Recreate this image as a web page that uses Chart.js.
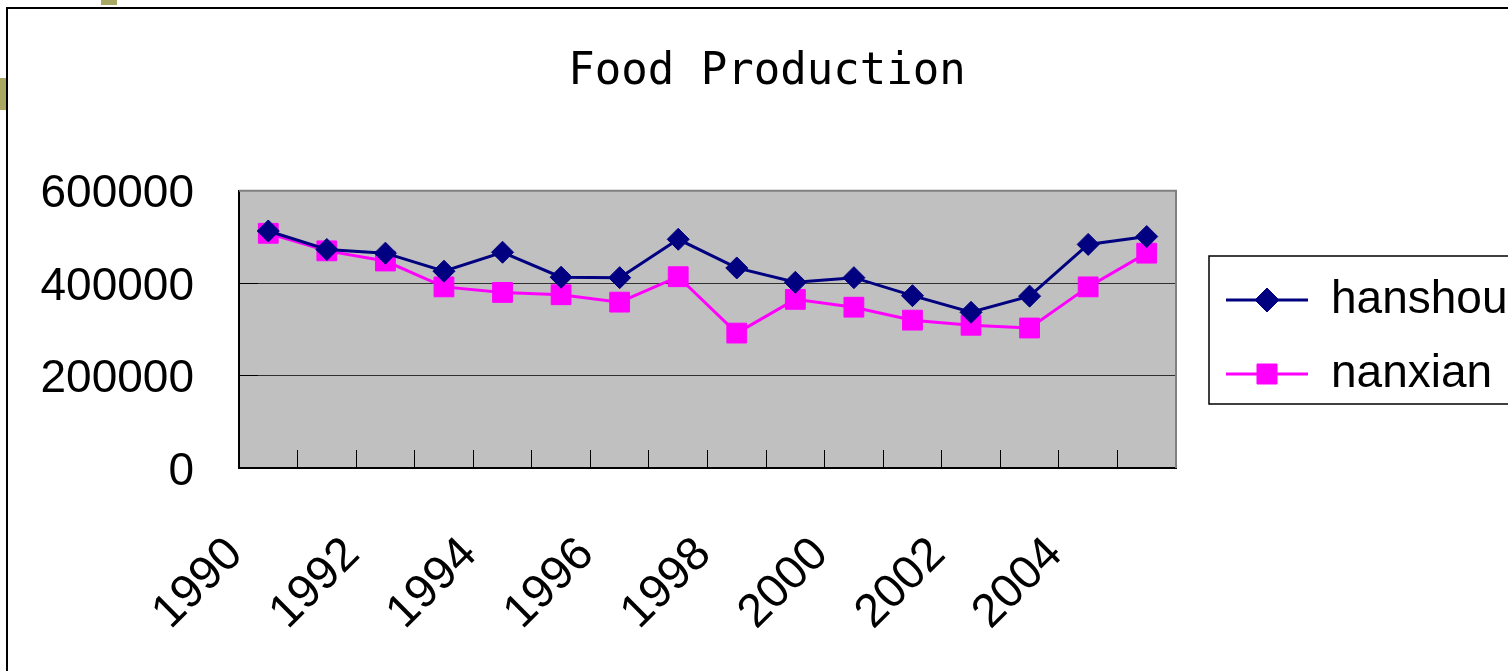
<!DOCTYPE html>
<html>
<head>
<meta charset="utf-8">
<script src="https://cdn.jsdelivr.net/npm/chart.js@4/dist/chart.umd.min.js"></script>
<style>
  body { margin: 0; background: #fff; }
  #wrap { width: 1508px; height: 671px; }
</style>
</head>
<body>
<div id="wrap"><canvas id="myChart" width="1508" height="671"></canvas></div>
<script>
// chart values
const years = ['1990', '1991', '1992', '1993', '1994', '1995', '1996', '1997',
    '1998', '1999', '2000', '2001', '2002', '2003', '2004', '2005'];
const hanshou = [513000, 473000, 465000, 426000, 467000, 413000, 412000, 495000,
    433000, 402000, 412000, 373000, 337000, 372000, 484000, 501000];
const nanxian = [508000, 470000, 448000, 392000, 380000, 375000, 359000, 414000,
    292000, 365000, 348000, 320000, 309000, 303000, 392000, 465000];
const yTicks = [0, 200000, 400000, 600000];

const sansFont = "'Liberation Sans', Arial, sans-serif";

// grey plot area, outer frame and the plot's top/right edge
const frame = {
    id: 'frame',
    beforeDraw(chart) {
        const ctx = chart.ctx;
        const a = chart.chartArea;
        ctx.save();
        ctx.fillStyle = '#fff';
        ctx.fillRect(0, 0, chart.width, chart.height);
        // bits of the slide behind the chart
        ctx.fillStyle = '#a9a862';
        ctx.fillRect(101, 0, 16, 5);
        ctx.fillRect(0, 78, 6, 32);
        ctx.fillStyle = '#fff';
        ctx.fillRect(7, 7, chart.width, chart.height);
        ctx.strokeStyle = '#000';
        ctx.lineWidth = 2;
        ctx.strokeRect(7, 8, chart.width + 20, chart.height + 20);
        ctx.fillStyle = '#c0c0c0';
        ctx.fillRect(a.left, a.top, a.right - a.left, a.bottom - a.top);
        ctx.restore();
    },
    beforeDatasetsDraw(chart) {
        const ctx = chart.ctx;
        const a = chart.chartArea;
        ctx.save();
        ctx.strokeStyle = '#808080';
        ctx.lineWidth = 2;
        ctx.beginPath();
        ctx.moveTo(a.left, a.top);
        ctx.lineTo(a.right, a.top);
        ctx.lineTo(a.right, a.bottom);
        ctx.stroke();
        ctx.restore();
    },
    afterDraw(chart) {
        // markers on the legend lines and the legend frame
        const lg = chart.legend;
        if (!lg || !lg.legendHitBoxes.length) return;
        const ctx = chart.ctx;
        const boxW = lg.options.labels.boxWidth;
        const fs = lg.options.labels.font.size;
        ctx.save();
        lg.legendHitBoxes.forEach((hb, i) => {
            const ds = chart.data.datasets[i];
            const cx = hb.left + boxW / 2;
            const cy = hb.top + fs / 2;
            ctx.fillStyle = ds.pointBackgroundColor;
            ctx.strokeStyle = ds.pointBorderColor;
            ctx.lineWidth = 1;
            ctx.beginPath();
            if (ds.pointStyle === 'rectRot') {
                const r = 12;
                ctx.moveTo(cx - r, cy);
                ctx.lineTo(cx, cy - r);
                ctx.lineTo(cx + r, cy);
                ctx.lineTo(cx, cy + r);
                ctx.closePath();
            } else {
                ctx.rect(cx - 10, cy - 10, 20, 20);
            }
            ctx.fill();
            ctx.stroke();
        });
        const first = lg.legendHitBoxes[0];
        const last = lg.legendHitBoxes[lg.legendHitBoxes.length - 1];
        ctx.strokeStyle = '#000';
        ctx.lineWidth = 1.5;
        ctx.strokeRect(first.left - 17, first.top - 21, 340, last.top + fs + 7 - (first.top - 21));
        ctx.restore();
    }
};

let ctx = document.getElementById('myChart').getContext('2d');
let myChart = new Chart(ctx, {
    type: 'line',
    data: {
        labels: years,
        datasets: [{
            label: 'hanshou',
            data: hanshou,
            borderColor: '#000080',
            backgroundColor: '#000080',
            borderWidth: 3,
            pointStyle: 'rectRot',
            pointRadius: 11,
            pointBackgroundColor: '#000080',
            pointBorderColor: '#000080',
            pointBorderWidth: 1,
            tension: 0
        }, {
            label: 'nanxian',
            data: nanxian,
            borderColor: '#ff00ff',
            backgroundColor: '#ff00ff',
            borderWidth: 3,
            pointStyle: 'rect',
            pointRadius: 14,
            pointBackgroundColor: '#ff00ff',
            pointBorderColor: '#ff00ff',
            pointBorderWidth: 1,
            tension: 0
        }]
    },
    options: {
        responsive: false,
        devicePixelRatio: 1,
        animation: false,
        layout: {
            padding: { left: 26, right: 0, top: 10, bottom: 7 }
        },
        plugins: {
            tooltip: { enabled: false },
            title: {
                display: true,
                text: 'Food Production',
                color: '#000',
                font: { family: "'DejaVu Sans Mono', monospace", size: 44, weight: 'normal' },
                padding: { top: 36, bottom: 92 }
            },
            legend: {
                position: 'right',
                maxWidth: 310,
                labels: {
                    color: '#000',
                    font: { family: sansFont, size: 46 },
                    boxWidth: 82,
                    boxHeight: 0,
                    padding: 28
                }
            }
        },
        scales: {
            x: {
                offset: true,
                grid: {
                    offset: true,
                    drawOnChartArea: false,
                    drawTicks: true,
                    tickLength: -18,
                    color: '#000',
                    lineWidth: 1
                },
                border: { color: '#000', width: 2 },
                ticks: {
                    autoSkip: false,
                    maxRotation: 45,
                    minRotation: 45,
                    padding: 77,
                    labelOffset: -33,
                    color: '#000',
                    font: { family: sansFont, size: 47 },
                    callback: function(value, index) {
                        return index % 2 === 0 ? years[index] : '';
                    }
                },
                afterFit: function(scale) { scale.height = 196; }
            },
            y: {
                min: 0,
                max: 600000,
                afterBuildTicks: function(scale) {
                    scale.ticks = yTicks.map(v => ({ value: v }));
                },
                grid: {
                    drawTicks: true,
                    tickLength: -19,
                    color: (c) => c.tick && c.tick.value === 600000 ? '#808080' : '#303030',
                    tickColor: '#000',
                    lineWidth: 1
                },
                border: { color: '#000', width: 2 },
                ticks: {
                    padding: 64,
                    labelOffset: 4,
                    color: '#000',
                    font: { family: sansFont, size: 46 },
                    callback: (v) => String(v)
                },
                afterFit: function(scale) { scale.width = 213; }
            },
            spacer: {
                type: 'linear',
                position: 'right',
                display: true,
                grid: { display: false, drawTicks: false },
                border: { display: false },
                ticks: { display: false },
                afterFit: function(scale) { scale.width = 22; }
            }
        }
    },
    plugins: [frame]
});
</script>
</body>
</html>
